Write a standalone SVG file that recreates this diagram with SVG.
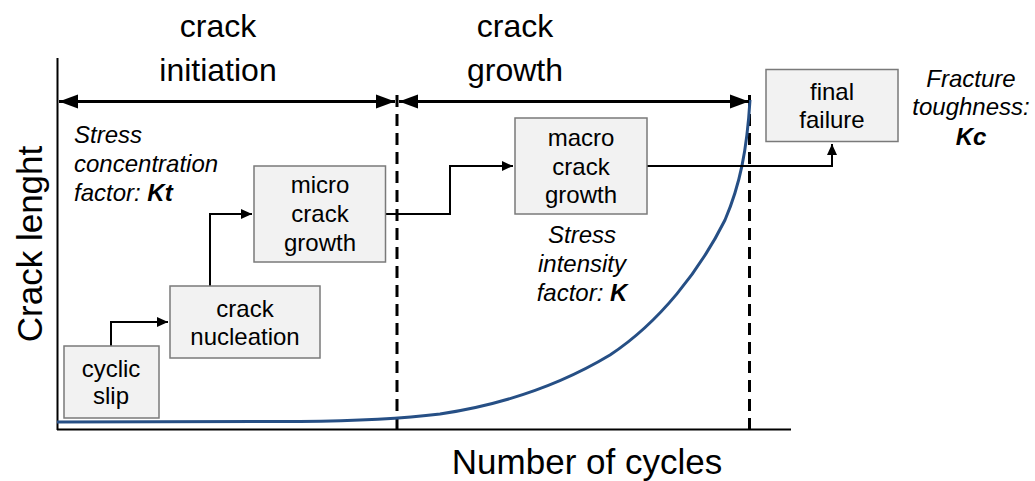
<svg xmlns="http://www.w3.org/2000/svg" width="1035" height="481" viewBox="0 0 1035 481">
<style>
text{font-family:"Liberation Sans",Arial,sans-serif;fill:#000}
.big{font-size:32px;text-anchor:middle}
.ax{font-size:35px}
.box rect{fill:#f2f2f2;stroke:#7a7a7a;stroke-width:1.5}
.box text{font-size:24px;text-anchor:middle}
.note{font-size:24px;font-style:italic}
.conn{fill:none;stroke:#000;stroke-width:2}
.dash{stroke:#000;stroke-width:3;stroke-dasharray:12 7}
</style>
<defs>
<marker id="big" markerUnits="userSpaceOnUse" markerWidth="20" markerHeight="16" refX="19" refY="8" orient="auto-start-reverse" viewBox="0 0 20 16">
<path d="M0,1 L19,8 L0,15 Z" fill="#000"/>
</marker>
<marker id="sm" markerUnits="userSpaceOnUse" markerWidth="12" markerHeight="10" refX="11" refY="5" orient="auto" viewBox="0 0 12 10">
<path d="M0,0 L11,5 L0,10 Z" fill="#000"/>
</marker>
</defs>
<rect width="1035" height="481" fill="#fff"/>
<g id="axes">
<line x1="57.5" y1="58" x2="57.5" y2="430" stroke="#000" stroke-width="2"/>
<line x1="57" y1="429.5" x2="791" y2="429.5" stroke="#000" stroke-width="2"/>
<line class="dash" x1="397" y1="95" x2="397" y2="430"/>
<line class="dash" x1="749.5" y1="95" x2="749.5" y2="430"/>
</g>
<path id="curve" d="M57,422 L300,421.5 C360,421 400,419 440,414 C500,405 560,385 610,355 C660,322 700,270 725,220 C740,185 747,150 750,100" fill="none" stroke="#264f85" stroke-width="3"/>
<g id="phases">
<line x1="59" y1="101.5" x2="395" y2="101.5" stroke="#000" stroke-width="3" marker-start="url(#big)" marker-end="url(#big)"/>
<line x1="399" y1="101.5" x2="749" y2="101.5" stroke="#000" stroke-width="3" marker-start="url(#big)" marker-end="url(#big)"/>
<text class="big" x="218" y="37">crack</text>
<text class="big" x="218" y="81">initiation</text>
<text class="big" x="515" y="37">crack</text>
<text class="big" x="515" y="81">growth</text>
</g>
<g id="labels">
<text class="ax" transform="translate(42,244) rotate(-90)" text-anchor="middle">Crack lenght</text>
<text class="ax" x="587" y="474" text-anchor="middle">Number of cycles</text>
<text class="note" x="74" y="143">Stress</text>
<text class="note" x="74" y="172">concentration</text>
<text class="note" x="74" y="201">factor: <tspan font-weight="bold">Kt</tspan></text>
<text class="note" x="582" y="243" text-anchor="middle">Stress</text>
<text class="note" x="582" y="272" text-anchor="middle">intensity</text>
<text class="note" x="582" y="301" text-anchor="middle">factor: <tspan font-weight="bold">K</tspan></text>
<text class="note" x="971" y="87" text-anchor="middle">Fracture</text>
<text class="note" x="971" y="115" text-anchor="middle">toughness:</text>
<text class="note" x="971" y="145" text-anchor="middle" font-weight="bold">Kc</text>
</g>
<g id="connectors">
<path class="conn" d="M111,346 V322 H168" marker-end="url(#sm)"/>
<path class="conn" d="M210,286 V214 H252" marker-end="url(#sm)"/>
<path class="conn" d="M386,214 H450 V166 H513" marker-end="url(#sm)"/>
<path class="conn" d="M647,166 H832 V144" marker-end="url(#sm)"/>
</g>
<g id="cyclic-slip" class="box">
<rect x="64" y="346" width="95" height="72"/>
<text x="111" y="377">cyclic</text>
<text x="111" y="404">slip</text>
</g>
<g id="crack-nucleation" class="box">
<rect x="170" y="286" width="150" height="72"/>
<text x="245" y="317">crack</text>
<text x="245" y="345">nucleation</text>
</g>
<g id="micro-crack-growth" class="box">
<rect x="254" y="166" width="131.5" height="96"/>
<text x="320" y="193">micro</text>
<text x="320" y="222">crack</text>
<text x="320" y="251">growth</text>
</g>
<g id="macro-crack-growth" class="box">
<rect x="515" y="118" width="132" height="96"/>
<text x="581" y="146">macro</text>
<text x="581" y="175">crack</text>
<text x="581" y="203">growth</text>
</g>
<g id="final-failure" class="box">
<rect x="766" y="69.5" width="132" height="72"/>
<text x="832" y="100">final</text>
<text x="832" y="128">failure</text>
</g>
</svg>
